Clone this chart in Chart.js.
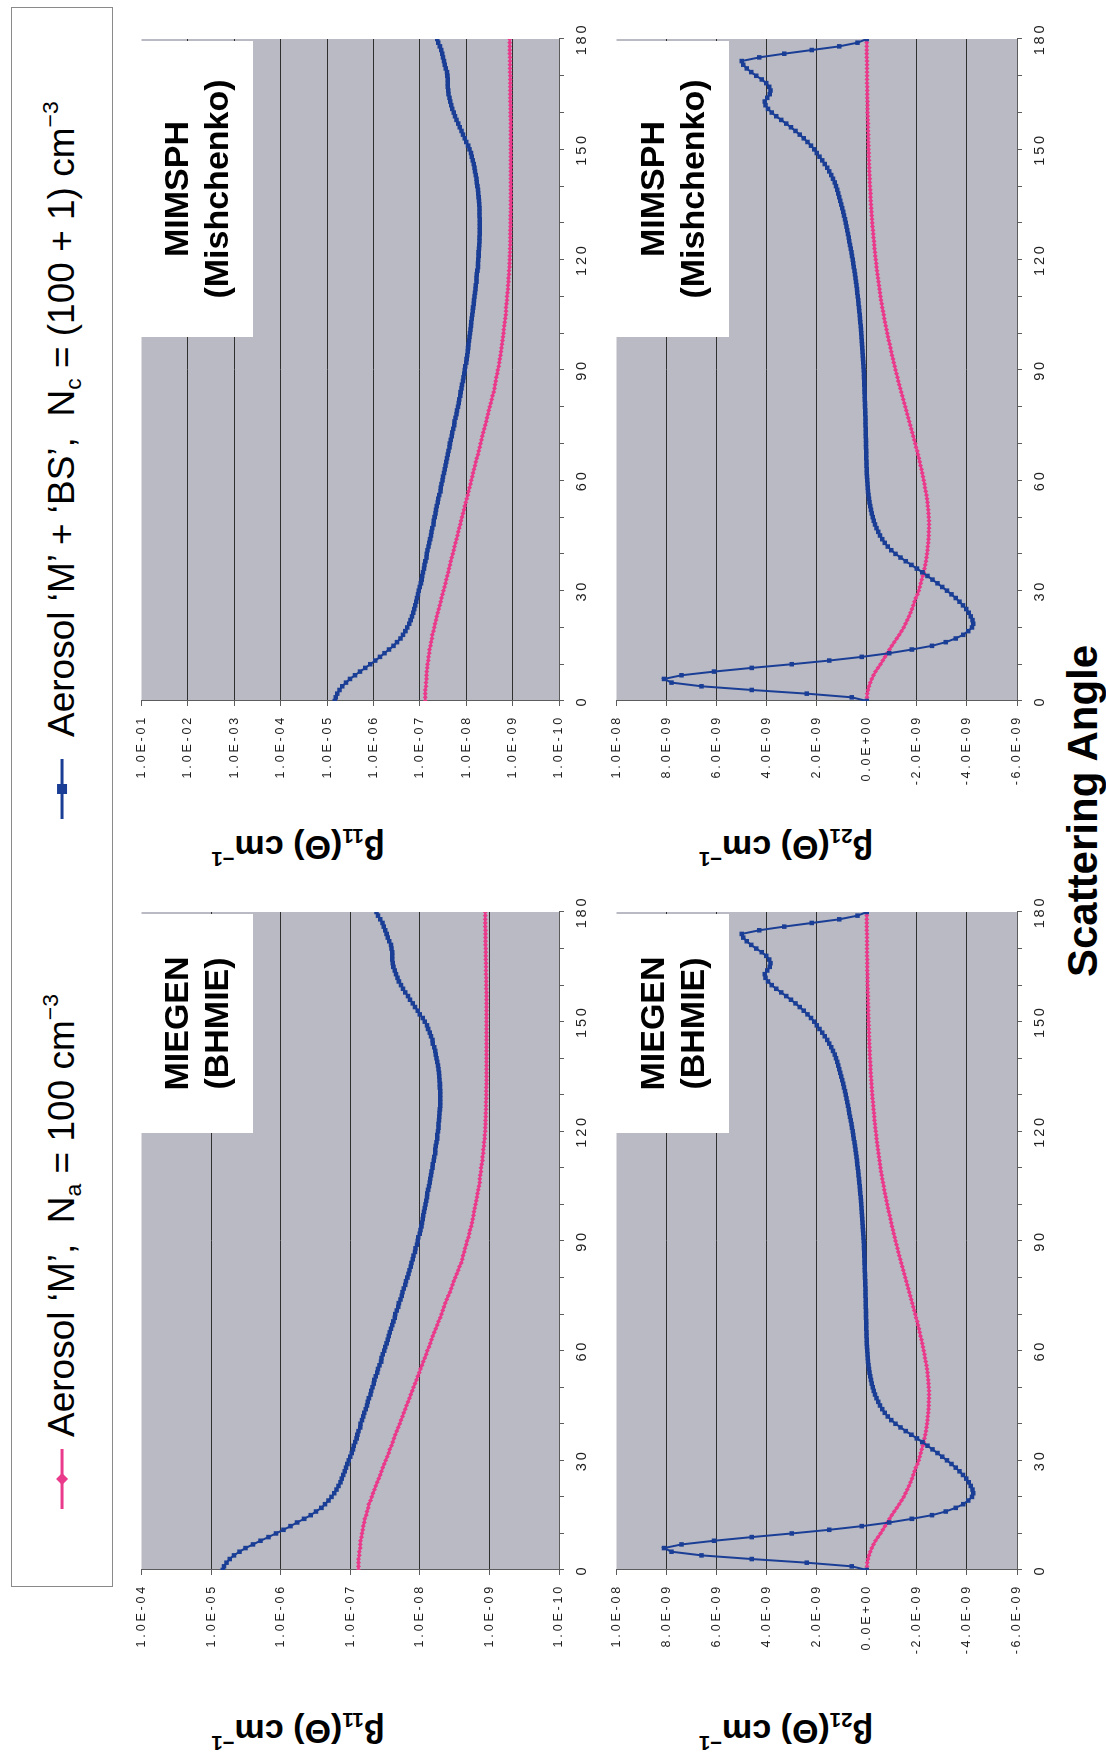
<!DOCTYPE html>
<html>
<head>
<meta charset="utf-8">
<title>Scattering functions β11 and β21</title>
<script src="https://cdn.jsdelivr.net/npm/chart.js@4.4.1/dist/chart.umd.min.js"></script>
<style>
  html, body { margin: 0; padding: 0; background: #fff; }
  body { width: 1106px; height: 1759px; overflow: hidden; position: relative;
         font-family: "Liberation Sans", Arial, sans-serif; color: #000; }
  /* The figure is laid out landscape and turned a quarter turn counter-clockwise. */
  #fig { position: absolute; left: 0; top: 0; width: 1759px; height: 1106px;
         transform-origin: 0 0; transform: translate(0, 1759px) rotate(-90deg); background: #fff; }
  #legend { position: absolute; border: 1px solid #8a8a8a; background: #fff; }
  .lg { position: absolute; display: flex; align-items: center; white-space: nowrap;
        font-size: 37px; transform: translateY(-50%); }
  .lg svg { margin-right: 12px; }
  .lg sub { font-size: 0.62em; vertical-align: -0.3em; }
  .lg sup { font-size: 0.62em; vertical-align: 0.7em; }
  .tag { position: absolute; background: #fff; font-weight: bold; font-size: 34px; line-height: 40px;
         display: flex; flex-direction: column; align-items: center; justify-content: center; }
  .ytitle { position: absolute; font-weight: bold; font-size: 34px; white-space: nowrap;
            transform: translate(-50%, -50%) rotate(-90deg); }
  .ytitle sub { font-size: 0.6em; vertical-align: -0.35em; }
  .ytitle sup { font-size: 0.6em; vertical-align: 0.75em; }
  #xtitle { position: absolute; font-weight: bold; font-size: 42px; white-space: nowrap;
            transform: translate(-50%, -50%); }
  canvas { position: absolute; }
</style>
</head>
<body>
<div id="fig">
  <div id="legend" style="left:172px; top:11px; width:1578px; height:100px;"></div>
  <div class="lg" style="left:250px; top:62px;">
    <svg width="60" height="16" viewBox="0 0 60 16"><line x1="0" y1="8" x2="60" y2="8" stroke="#ea3a8c" stroke-width="3"/><polygon points="30,2 36,8 30,14 24,8" fill="#ea3a8c"/></svg>
    <span>Aerosol ‘M’,&nbsp; N<sub>a</sub> = 100 cm<sup>−3</sup></span>
  </div>
  <div class="lg" style="left:940px; top:62px;">
    <svg width="60" height="16" viewBox="0 0 60 16"><line x1="0" y1="8" x2="60" y2="8" stroke="#1a3e96" stroke-width="3"/><rect x="25" y="3" width="10" height="10" fill="#1a3e96"/></svg>
    <span style="margin-left:10px">Aerosol ‘M’ + ‘BS’,&nbsp; N<sub>c</sub> = (100 + 1) cm<sup>−3</sup></span>
  </div>

  <div class="ytitle" style="left:28px; top:298px;">β<sub>11</sub>(Θ) cm<sup>−1</sup></div>
  <div class="ytitle" style="left:28px; top:786px;">β<sub>21</sub>(Θ) cm<sup>−1</sup></div>
  <div class="ytitle" style="left:912px; top:298px;">β<sub>11</sub>(Θ) cm<sup>−1</sup></div>
  <div class="ytitle" style="left:912px; top:786px;">β<sub>21</sub>(Θ) cm<sup>−1</sup></div>
  <div id="xtitle" style="left:948px; top:1083px;">Scattering Angle</div>
</div>

<script>
// Scattering angle (degrees), one sample per degree.
const angles = Array.from({ length: 181 }, (_, i) => i);
const angleTicks = [0, 10, 20, 30, 40, 50, 60, 70, 80, 90, 100, 110, 120, 130, 140, 150, 160, 170, 180];
const b11TicksMiegen = [1e-10, 1e-9, 1e-8, 1e-7, 1e-6, 1e-5, 1e-4];
const b11TicksMimsph = [1e-10, 1e-9, 1e-8, 1e-7, 1e-6, 1e-5, 1e-4, 1e-3, 1e-2, 1e-1];
const b21Ticks = [-6e-9, -4e-9, -2e-9, 0, 2e-9, 4e-9, 6e-9, 8e-9, 1e-8];

// β11(Θ), cm^-1 — aerosol 'M' alone (Na = 100 cm^-3)
const b11_M = [
  7.6e-8, 7.6e-8, 7.6e-8, 7.6e-8, 7.4e-8, 7.4e-8, 7.2e-8, 7.2e-8, 7.1e-8, 6.9e-8,
  6.8e-8, 6.6e-8, 6.5e-8, 6.3e-8, 6.2e-8, 5.9e-8, 5.75e-8, 5.5e-8, 5.4e-8, 5.1e-8,
  4.9e-8, 4.7e-8, 4.5e-8, 4.3e-8, 4.1e-8, 3.9e-8, 3.7e-8, 3.55e-8, 3.4e-8, 3.25e-8,
  3.1e-8, 2.95e-8, 2.8e-8, 2.7e-8, 2.55e-8, 2.45e-8, 2.35e-8, 2.25e-8, 2.15e-8, 2.05e-8,
  1.95e-8, 1.86e-8, 1.78e-8, 1.7e-8, 1.62e-8, 1.55e-8, 1.48e-8, 1.41e-8, 1.35e-8, 1.29e-8,
  1.23e-8, 1.17e-8, 1.12e-8, 1.07e-8, 1.02e-8, 9.8e-9, 9.3e-9, 8.9e-9, 8.5e-9, 8.1e-9,
  7.8e-9, 7.4e-9, 7.1e-9, 6.8e-9, 6.5e-9, 6.2e-9, 5.9e-9, 5.6e-9, 5.4e-9, 5.1e-9,
  4.9e-9, 4.7e-9, 4.5e-9, 4.3e-9, 4.1e-9, 3.9e-9, 3.7e-9, 3.55e-9, 3.4e-9, 3.25e-9,
  3.1e-9, 2.95e-9, 2.8e-9, 2.7e-9, 2.55e-9, 2.45e-9, 2.4e-9, 2.3e-9, 2.25e-9, 2.15e-9,
  2.1e-9, 2.0e-9, 1.95e-9, 1.9e-9, 1.82e-9, 1.78e-9, 1.74e-9, 1.7e-9, 1.66e-9, 1.62e-9,
  1.58e-9, 1.55e-9, 1.51e-9, 1.48e-9, 1.45e-9, 1.41e-9, 1.38e-9, 1.38e-9, 1.35e-9, 1.32e-9,
  1.32e-9, 1.29e-9, 1.26e-9, 1.26e-9, 1.23e-9, 1.23e-9, 1.2e-9, 1.2e-9, 1.17e-9, 1.17e-9,
  1.15e-9, 1.15e-9, 1.14e-9, 1.14e-9, 1.13e-9, 1.13e-9, 1.12e-9, 1.12e-9, 1.12e-9, 1.11e-9,
  1.11e-9, 1.11e-9, 1.11e-9, 1.1e-9, 1.1e-9, 1.1e-9, 1.1e-9, 1.1e-9, 1.1e-9, 1.1e-9,
  1.1e-9, 1.1e-9, 1.1e-9, 1.1e-9, 1.1e-9, 1.1e-9, 1.1e-9, 1.1e-9, 1.1e-9, 1.1e-9,
  1.1e-9, 1.1e-9, 1.1e-9, 1.1e-9, 1.1e-9, 1.1e-9, 1.1e-9, 1.1e-9, 1.1e-9, 1.11e-9,
  1.11e-9, 1.11e-9, 1.11e-9, 1.12e-9, 1.12e-9, 1.12e-9, 1.12e-9, 1.13e-9, 1.13e-9, 1.13e-9,
  1.13e-9, 1.14e-9, 1.14e-9, 1.14e-9, 1.14e-9, 1.14e-9, 1.15e-9, 1.15e-9, 1.15e-9, 1.15e-9,
  1.15e-9
];

// β11(Θ), cm^-1 — aerosol 'M' + 'BS' (Nc = 100 + 1 cm^-3)
const b11_MBS = [
  6.8e-6, 6.5e-6, 6.0e-6, 5.4e-6, 4.7e-6, 3.9e-6, 3.2e-6, 2.5e-6, 1.95e-6, 1.5e-6,
  1.17e-6, 9.1e-7, 7.2e-7, 5.8e-7, 4.6e-7, 3.7e-7, 3.1e-7, 2.6e-7, 2.3e-7, 2.05e-7,
  1.86e-7, 1.7e-7, 1.58e-7, 1.48e-7, 1.38e-7, 1.32e-7, 1.26e-7, 1.2e-7, 1.15e-7, 1.1e-7,
  1.05e-7, 1.0e-7, 9.5e-8, 9.1e-8, 8.9e-8, 8.5e-8, 8.1e-8, 7.9e-8, 7.6e-8, 7.2e-8,
  7.1e-8, 6.8e-8, 6.5e-8, 6.3e-8, 6.0e-8, 5.75e-8, 5.6e-8, 5.4e-8, 5.1e-8, 5.0e-8,
  4.8e-8, 4.6e-8, 4.5e-8, 4.3e-8, 4.1e-8, 4.0e-8, 3.8e-8, 3.6e-8, 3.55e-8, 3.4e-8,
  3.25e-8, 3.15e-8, 3.0e-8, 2.9e-8, 2.8e-8, 2.7e-8, 2.6e-8, 2.5e-8, 2.4e-8, 2.3e-8,
  2.25e-8, 2.15e-8, 2.05e-8, 2.0e-8, 1.9e-8, 1.82e-8, 1.78e-8, 1.7e-8, 1.62e-8, 1.58e-8,
  1.51e-8, 1.45e-8, 1.41e-8, 1.35e-8, 1.32e-8, 1.26e-8, 1.23e-8, 1.17e-8, 1.15e-8, 1.1e-8,
  1.07e-8, 1.05e-8, 1.0e-8, 9.8e-9, 9.5e-9, 9.3e-9, 9.1e-9, 8.9e-9, 8.7e-9, 8.5e-9,
  8.3e-9, 8.1e-9, 7.9e-9, 7.8e-9, 7.6e-9, 7.4e-9, 7.2e-9, 7.1e-9, 6.9e-9, 6.8e-9,
  6.6e-9, 6.5e-9, 6.3e-9, 6.2e-9, 6.0e-9, 6.0e-9, 5.9e-9, 5.75e-9, 5.6e-9, 5.6e-9,
  5.5e-9, 5.4e-9, 5.4e-9, 5.3e-9, 5.25e-9, 5.2e-9, 5.15e-9, 5.1e-9, 5.1e-9, 5.1e-9,
  5.1e-9, 5.1e-9, 5.15e-9, 5.15e-9, 5.2e-9, 5.25e-9, 5.3e-9, 5.4e-9, 5.5e-9, 5.6e-9,
  5.75e-9, 5.9e-9, 6.0e-9, 6.2e-9, 6.5e-9, 6.6e-9, 6.9e-9, 7.2e-9, 7.6e-9, 7.9e-9,
  8.5e-9, 9.1e-9, 1.0e-8, 1.07e-8, 1.17e-8, 1.26e-8, 1.38e-8, 1.48e-8, 1.62e-8, 1.74e-8,
  1.86e-8, 2.0e-8, 2.1e-8, 2.2e-8, 2.3e-8, 2.4e-8, 2.45e-8, 2.5e-8, 2.5e-8, 2.5e-8,
  2.55e-8, 2.6e-8, 2.75e-8, 2.9e-8, 3.0e-8, 3.15e-8, 3.3e-8, 3.45e-8, 3.7e-8, 4.0e-8,
  4.2e-8
];

// β21(Θ), cm^-1 — aerosol 'M' alone
const b21_M = [
  0, -0.01e-9, -0.02e-9, -0.05e-9, -0.09e-9, -0.14e-9, -0.2e-9, -0.27e-9, -0.35e-9, -0.45e-9,
  -0.55e-9, -0.64e-9, -0.73e-9, -0.82e-9, -0.91e-9, -1.0e-9, -1.1e-9, -1.2e-9, -1.3e-9, -1.39e-9,
  -1.48e-9, -1.55e-9, -1.62e-9, -1.69e-9, -1.75e-9, -1.81e-9, -1.86e-9, -1.91e-9, -1.96e-9, -2.02e-9,
  -2.07e-9, -2.11e-9, -2.15e-9, -2.19e-9, -2.23e-9, -2.27e-9, -2.3e-9, -2.33e-9, -2.36e-9, -2.38e-9,
  -2.4e-9, -2.42e-9, -2.43e-9, -2.45e-9, -2.46e-9, -2.47e-9, -2.47e-9, -2.48e-9, -2.48e-9, -2.48e-9,
  -2.47e-9, -2.46e-9, -2.45e-9, -2.43e-9, -2.42e-9, -2.4e-9, -2.38e-9, -2.35e-9, -2.32e-9, -2.3e-9,
  -2.27e-9, -2.24e-9, -2.21e-9, -2.18e-9, -2.14e-9, -2.11e-9, -2.08e-9, -2.04e-9, -2.01e-9, -1.97e-9,
  -1.94e-9, -1.9e-9, -1.86e-9, -1.82e-9, -1.78e-9, -1.74e-9, -1.7e-9, -1.66e-9, -1.62e-9, -1.58e-9,
  -1.54e-9, -1.5e-9, -1.46e-9, -1.42e-9, -1.38e-9, -1.34e-9, -1.3e-9, -1.26e-9, -1.23e-9, -1.19e-9,
  -1.15e-9, -1.12e-9, -1.08e-9, -1.05e-9, -1.01e-9, -0.98e-9, -0.95e-9, -0.92e-9, -0.88e-9, -0.85e-9,
  -0.82e-9, -0.79e-9, -0.76e-9, -0.73e-9, -0.7e-9, -0.68e-9, -0.65e-9, -0.62e-9, -0.6e-9, -0.57e-9,
  -0.55e-9, -0.53e-9, -0.51e-9, -0.49e-9, -0.47e-9, -0.45e-9, -0.43e-9, -0.41e-9, -0.39e-9, -0.38e-9,
  -0.36e-9, -0.34e-9, -0.33e-9, -0.31e-9, -0.3e-9, -0.29e-9, -0.27e-9, -0.26e-9, -0.25e-9, -0.23e-9,
  -0.22e-9, -0.21e-9, -0.2e-9, -0.19e-9, -0.18e-9, -0.17e-9, -0.16e-9, -0.15e-9, -0.15e-9, -0.14e-9,
  -0.13e-9, -0.12e-9, -0.12e-9, -0.11e-9, -0.1e-9, -0.1e-9, -0.09e-9, -0.09e-9, -0.08e-9, -0.08e-9,
  -0.07e-9, -0.07e-9, -0.06e-9, -0.06e-9, -0.06e-9, -0.05e-9, -0.05e-9, -0.05e-9, -0.04e-9, -0.04e-9,
  -0.03e-9, -0.03e-9, -0.03e-9, -0.03e-9, -0.02e-9, -0.02e-9, -0.02e-9, -0.02e-9, -0.01e-9, -0.01e-9,
  -0.01e-9, -0.01e-9, -0.01e-9, -0.01e-9, -0.01e-9, 0, 0, 0, 0, 0,
  0
];

// β21(Θ), cm^-1 — aerosol 'M' + 'BS'
const b21_MBS = [
  0, 0.6e-9, 2.4e-9, 4.6e-9, 6.6e-9, 7.8e-9, 8.1e-9, 7.4e-9, 6.1e-9, 4.6e-9,
  3.0e-9, 1.5e-9, 0.2e-9, -0.9e-9, -1.8e-9, -2.6e-9, -3.15e-9, -3.55e-9, -3.85e-9, -4.05e-9,
  -4.2e-9, -4.25e-9, -4.22e-9, -4.15e-9, -4.07e-9, -3.97e-9, -3.84e-9, -3.7e-9, -3.55e-9, -3.38e-9,
  -3.2e-9, -3.01e-9, -2.82e-9, -2.62e-9, -2.42e-9, -2.22e-9, -2.0e-9, -1.78e-9, -1.56e-9, -1.35e-9,
  -1.15e-9, -0.98e-9, -0.84e-9, -0.72e-9, -0.62e-9, -0.53e-9, -0.46e-9, -0.39e-9, -0.33e-9, -0.28e-9,
  -0.24e-9, -0.2e-9, -0.17e-9, -0.14e-9, -0.11e-9, -0.09e-9, -0.07e-9, -0.05e-9, -0.04e-9, -0.03e-9,
  -0.02e-9, -0.01e-9, 0, 0, 0.01e-9, 0.01e-9, 0.02e-9, 0.02e-9, 0.02e-9, 0.03e-9,
  0.03e-9, 0.03e-9, 0.04e-9, 0.04e-9, 0.04e-9, 0.05e-9, 0.05e-9, 0.05e-9, 0.06e-9, 0.06e-9,
  0.07e-9, 0.07e-9, 0.08e-9, 0.08e-9, 0.09e-9, 0.09e-9, 0.1e-9, 0.1e-9, 0.11e-9, 0.11e-9,
  0.12e-9, 0.13e-9, 0.14e-9, 0.15e-9, 0.16e-9, 0.17e-9, 0.18e-9, 0.19e-9, 0.2e-9, 0.21e-9,
  0.22e-9, 0.23e-9, 0.24e-9, 0.26e-9, 0.27e-9, 0.28e-9, 0.3e-9, 0.31e-9, 0.33e-9, 0.34e-9,
  0.36e-9, 0.38e-9, 0.39e-9, 0.41e-9, 0.43e-9, 0.45e-9, 0.47e-9, 0.49e-9, 0.52e-9, 0.54e-9,
  0.56e-9, 0.59e-9, 0.61e-9, 0.64e-9, 0.67e-9, 0.7e-9, 0.72e-9, 0.75e-9, 0.78e-9, 0.81e-9,
  0.84e-9, 0.87e-9, 0.91e-9, 0.94e-9, 0.98e-9, 1.02e-9, 1.06e-9, 1.1e-9, 1.14e-9, 1.18e-9,
  1.23e-9, 1.28e-9, 1.35e-9, 1.42e-9, 1.5e-9, 1.58e-9, 1.68e-9, 1.78e-9, 1.89e-9, 2.0e-9,
  2.1e-9, 2.23e-9, 2.37e-9, 2.52e-9, 2.68e-9, 2.85e-9, 3.03e-9, 3.22e-9, 3.42e-9, 3.62e-9,
  3.8e-9, 3.95e-9, 4.05e-9, 4.08e-9, 3.98e-9, 3.88e-9, 3.85e-9, 3.9e-9, 4.02e-9, 4.2e-9,
  4.42e-9, 4.62e-9, 4.8e-9, 4.94e-9, 5.0e-9, 4.3e-9, 3.3e-9, 2.2e-9, 1.1e-9, 0.37e-9,
  0
];

const FONT = '"Liberation Sans", Arial, sans-serif';
const PINK = '#ea3a8c';
const BLUE = '#1a3e96';
const PLOT_FILL = '#b9bac3';

// Axis numbers are written in the spreadsheet style, e.g. 1.0E-05.
function sci(v) {
  if (Math.abs(v) < 1e-20) return '0.0E+00';
  const e = Math.floor(Math.log10(Math.abs(v)) + 1e-9);
  const m = v / Math.pow(10, e);
  return m.toFixed(1) + 'E' + (e < 0 ? '-' : '+') + String(Math.abs(e)).padStart(2, '0');
}

// Grey plot area behind the curves; wide letter spacing for the axis numbers.
const plotArea = {
  id: 'plotArea',
  beforeDraw(chart) {
    const { ctx, chartArea: a } = chart;
    ctx.save();
    ctx.fillStyle = PLOT_FILL;
    ctx.fillRect(a.left, a.top, a.right - a.left, a.bottom - a.top);
    ctx.restore();
    ctx.letterSpacing = '2.8px';
  }
};

const fig = document.getElementById('fig');

function addTag(box, lines) {
  const d = document.createElement('div');
  d.className = 'tag';
  d.style.left = box.l + 'px';
  d.style.top = box.t + 'px';
  d.style.width = (box.r - box.l) + 'px';
  d.style.height = (box.b - box.t) + 'px';
  lines.forEach(s => { const sp = document.createElement('span'); sp.textContent = s; d.appendChild(sp); });
  fig.appendChild(d);
}

function addPanel(plot, yAxis, seriesM, seriesMBS) {
  const yW = 100, xH = 50, padT = 12, padR = 24;
  const w = (plot.r - plot.l) + yW + padR;
  const h = (plot.b - plot.t) + padT + xH;
  const cv = document.createElement('canvas');
  cv.width = w; cv.height = h;
  cv.style.left = (plot.l - yW) + 'px';
  cv.style.top = (plot.t - padT) + 'px';
  cv.style.width = w + 'px';
  cv.style.height = h + 'px';
  fig.appendChild(cv);

  const yMax = yAxis.max;
  const yTicks = yAxis.ticks;

  new Chart(cv, {
    type: 'line',
    data: {
      labels: angles,
      datasets: [
        { label: "Aerosol 'M' + 'BS'", data: seriesMBS, borderColor: BLUE, backgroundColor: BLUE,
          borderWidth: 2, pointStyle: 'rect', pointRadius: 3.2, pointBorderWidth: 0,
          pointBackgroundColor: BLUE, tension: 0, fill: false },
        { label: "Aerosol 'M'", data: seriesM, borderColor: PINK, backgroundColor: PINK,
          borderWidth: 2, pointStyle: 'rectRot', pointRadius: 2.5, pointBorderWidth: 0,
          pointBackgroundColor: PINK, tension: 0, fill: false }
      ]
    },
    options: {
      responsive: false,
      animation: false,
      devicePixelRatio: 1,
      events: [],
      layout: { padding: { top: padT, right: padR, left: 0, bottom: 0 } },
      plugins: { legend: { display: false }, tooltip: { enabled: false } },
      scales: {
        x: {
          type: 'linear', min: 0, max: 180,
          afterBuildTicks: s => { s.ticks = angleTicks.map(v => ({ value: v })); },
          afterFit: s => { s.height = xH; },
          ticks: { autoSkip: false, maxRotation: 0, padding: 9, color: '#1e1e1e',
                   font: { family: FONT, size: 14.5 },
                   callback: v => (v % 30 === 0 ? String(v) : '') },
          grid: { drawOnChartArea: false, drawTicks: true, tickLength: 5, tickColor: '#5c5c5c' },
          border: { display: true, color: '#5c5c5c', width: 1 }
        },
        y: {
          type: yAxis.type, min: yAxis.min, max: yMax,
          afterBuildTicks: s => { s.ticks = yTicks.map(v => ({ value: v })); },
          afterFit: s => { s.width = yW; },
          ticks: { autoSkip: false, padding: 9, color: '#1e1e1e',
                   font: { family: FONT, size: 12.5 }, callback: v => sci(v) },
          grid: {
            color: c => (c.tick && Math.abs(c.tick.value - yMax) < Math.abs(yMax) * 1e-6) ? 'rgba(0,0,0,0)' : '#2f2f2f',
            lineWidth: 1, drawTicks: true, tickLength: 5, tickColor: '#5c5c5c'
          },
          border: { display: true, color: '#5c5c5c', width: 1 }
        }
      }
    },
    plugins: [plotArea]
  });
}

// MIEGEN (BHMIE), left column; MIMSPH (Mishchenko), right column.
const colMiegen = { l: 189, r: 847 };
const colMimsph = { l: 1058, r: 1720 };
const rowB11 = { t: 137, b: 559 };
const rowB21 = { t: 612, b: 1017 };

addPanel({ ...colMiegen, ...rowB11 }, { type: 'logarithmic', min: 1e-10, max: 1e-4, ticks: b11TicksMiegen }, b11_M, b11_MBS);
addPanel({ ...colMimsph, ...rowB11 }, { type: 'logarithmic', min: 1e-10, max: 1e-1, ticks: b11TicksMimsph }, b11_M, b11_MBS);
addPanel({ ...colMiegen, ...rowB21 }, { type: 'linear', min: -6e-9, max: 1e-8, ticks: b21Ticks }, b21_M, b21_MBS);
addPanel({ ...colMimsph, ...rowB21 }, { type: 'linear', min: -6e-9, max: 1e-8, ticks: b21Ticks }, b21_M, b21_MBS);

addTag({ l: 626, r: 845, t: 139, b: 253 }, ['MIEGEN', '(BHMIE)']);
addTag({ l: 1422, r: 1718, t: 139, b: 253 }, ['MIMSPH', '(Mishchenko)']);
addTag({ l: 626, r: 845, t: 614, b: 729 }, ['MIEGEN', '(BHMIE)']);
addTag({ l: 1422, r: 1718, t: 614, b: 729 }, ['MIMSPH', '(Mishchenko)']);
</script>
</body>
</html>
